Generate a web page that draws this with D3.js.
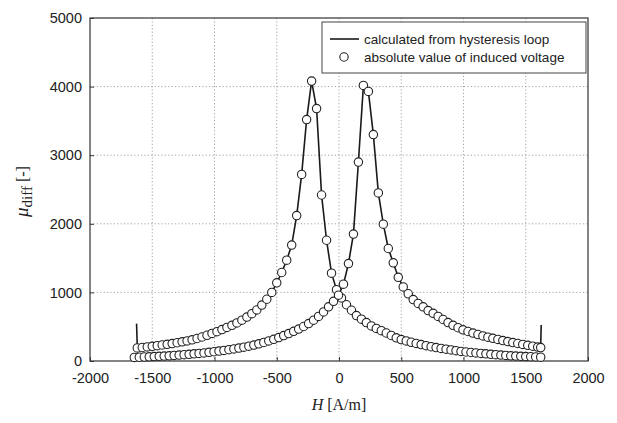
<!DOCTYPE html>
<html>
<head>
<meta charset="utf-8">
<script src="https://cdn.jsdelivr.net/npm/d3@7/dist/d3.min.js"></script>
<style>
  html, body { margin: 0; padding: 0; background: #fff; }
  #chart { width: 617px; height: 423px; }
  text { fill: #222; }
</style>
</head>
<body>
<div id="chart"></div>
<script>
// descending branch of the loop (peak at negative H)
const hDesc = [-1620, -1580, -1540, -1500, -1460, -1420, -1380, -1340, -1300, -1260,
  -1220, -1180, -1140, -1100, -1060, -1020, -980, -940, -900, -860,
  -820, -780, -740, -700, -660, -620, -580, -540, -500, -460,
  -420, -380, -340, -300, -260, -220, -180, -140, -100, -60,
  -20, 20, 60, 100, 140, 180, 220, 260, 300, 340,
  380, 420, 460, 500, 540, 580, 620, 660, 700, 740,
  780, 820, 860, 900, 940, 980, 1020, 1060, 1100, 1140,
  1180, 1220, 1260, 1300, 1340, 1380, 1420, 1460, 1500, 1540,
  1580, 1620];
const muDesc = [190, 197, 205, 214, 224, 233, 243, 254, 266, 279,
  293, 308, 328, 350, 375, 402, 428, 458, 490, 520,
  555, 595, 640, 690, 745, 815, 900, 1000, 1140, 1290,
  1470, 1690, 2120, 2720, 3520, 4080, 3680, 2420, 1760, 1280,
  1040, 920, 820, 740, 662, 610, 560, 512, 475, 442,
  408, 372, 338, 312, 292, 273, 256, 240, 224, 208,
  195, 183, 172, 161, 150, 140, 131, 124, 117, 111,
  104, 98, 92, 86, 81, 76, 72, 68, 65, 62,
  59, 56];

// ascending branch of the loop (peak at positive H)
const hAsc = [-1644, -1604, -1564, -1524, -1484, -1444, -1404, -1364, -1324, -1284,
  -1244, -1204, -1164, -1124, -1084, -1044, -1004, -964, -924, -884,
  -844, -804, -764, -724, -684, -644, -604, -564, -524, -484,
  -444, -404, -364, -324, -284, -244, -204, -164, -124, -84,
  -44, -4, 36, 76, 116, 156, 196, 236, 276, 316,
  356, 396, 436, 476, 516, 556, 596, 636, 676, 716,
  756, 796, 836, 876, 916, 956, 996, 1036, 1076, 1116,
  1156, 1196, 1236, 1276, 1316, 1356, 1396, 1436, 1476, 1516,
  1556, 1596, 1620];
const muAsc = [52, 55, 58, 61, 64, 68, 72, 76, 81, 86,
  92, 98, 104, 111, 118, 126, 135, 144, 154, 165,
  176, 188, 202, 216, 232, 250, 270, 292, 316, 342,
  370, 400, 432, 466, 503, 545, 595, 650, 715, 790,
  870, 960, 1120, 1420, 1850, 2900, 4017, 3930, 3300, 2450,
  1994, 1640, 1431, 1220, 1080, 980, 895, 840, 790, 735,
  695, 650, 605, 560, 520, 485, 455, 430, 407, 386,
  366, 348, 331, 314, 298, 283, 269, 255, 242, 229,
  216, 203, 195];

// spikes of the calculated curve at the loop tips (line only)
const spikeH = [-1626, 1624];
const spikeMu = [545, 525];

const xTicks = [-2000, -1500, -1000, -500, 0, 500, 1000, 1500, 2000];
const yTicks = [0, 1000, 2000, 3000, 4000, 5000];
const legendLabels = ['calculated from hysteresis loop', 'absolute value of induced voltage'];

function renderChart(containerSelector) {
  const container = d3.select(containerSelector);
  container.selectAll('*').remove();

  const margin = { top: 18, right: 29, bottom: 62, left: 90 };
  const width = 617 - margin.left - margin.right;
  const height = 423 - margin.top - margin.bottom;

  const root = container.append('svg')
    .attr('width', 617)
    .attr('height', 423);
  const svg = root.append('g')
    .attr('transform', `translate(${margin.left},${margin.top})`);

  const x = d3.scaleLinear().domain([-2000, 2000]).range([0, width]);
  const y = d3.scaleLinear().domain([0, 5000]).range([height, 0]);

  // dotted grid
  svg.append('g')
    .selectAll('line')
    .data(xTicks.slice(1, -1))
    .join('line')
    .attr('x1', d => x(d)).attr('x2', d => x(d))
    .attr('y1', 0).attr('y2', height)
    .attr('stroke', '#999').attr('stroke-width', 0.9)
    .attr('stroke-dasharray', '1.2,2.2');
  svg.append('g')
    .selectAll('line')
    .data(yTicks.slice(1, -1))
    .join('line')
    .attr('x1', 0).attr('x2', width)
    .attr('y1', d => y(d)).attr('y2', d => y(d))
    .attr('stroke', '#999').attr('stroke-width', 0.9)
    .attr('stroke-dasharray', '1.2,2.2');

  // axes (plain hyphen minus, as in the original)
  const fmt = d => String(d);
  const xAxis = svg.append('g')
    .attr('transform', `translate(0,${height})`)
    .call(d3.axisBottom(x).tickValues(xTicks).tickSize(-4).tickPadding(12).tickFormat(fmt));
  const yAxis = svg.append('g')
    .call(d3.axisLeft(y).tickValues(yTicks).tickSize(-4).tickPadding(8).tickFormat(fmt));
  [xAxis, yAxis].forEach(a => {
    a.select('.domain').remove();
    a.selectAll('line').attr('stroke', '#333');
    a.selectAll('text')
      .style('font-family', 'Liberation Sans, Arial, sans-serif')
      .style('font-size', '14.5px')
      .attr('fill', '#2a2a2a');
  });

  // frame
  svg.append('rect')
    .attr('width', width).attr('height', height)
    .attr('fill', 'none').attr('stroke', '#333').attr('stroke-width', 1.2);

  const lineGen = d3.line().x(d => x(d[0])).y(d => y(d[1]));
  const descPts = [[spikeH[0], spikeMu[0]]].concat(hDesc.map((h, i) => [h, muDesc[i]]));
  const ascPts = hAsc.map((h, i) => [h, muAsc[i]]).concat([[spikeH[1], spikeMu[1]]]);

  [descPts, ascPts].forEach(pts => {
    svg.append('path')
      .attr('d', lineGen(pts))
      .attr('fill', 'none')
      .attr('stroke', '#1a1a1a')
      .attr('stroke-width', 1.6);
  });

  const circleData = hDesc.map((h, i) => [h, muDesc[i]])
    .concat(hAsc.map((h, i) => [h, muAsc[i]]));
  svg.append('g')
    .selectAll('circle')
    .data(circleData)
    .join('circle')
    .attr('cx', d => x(d[0]))
    .attr('cy', d => y(d[1]))
    .attr('r', 4.2)
    .attr('fill', '#fff')
    .attr('stroke', '#222')
    .attr('stroke-width', 1.1);

  // axis titles
  const xt = svg.append('text')
    .attr('x', width / 2).attr('y', height + 49)
    .attr('text-anchor', 'middle')
    .style('font-family', 'Liberation Serif, Times New Roman, serif')
    .style('font-size', '16px');
  xt.append('tspan').style('font-style', 'italic').text('H');
  xt.append('tspan').text(' [A/m]');

  const yt = root.append('text')
    .attr('transform', `translate(28,${margin.top + height / 2 + 2}) rotate(-90)`)
    .attr('text-anchor', 'middle')
    .style('font-family', 'Liberation Serif, Times New Roman, serif')
    .style('font-size', '16px');
  yt.append('tspan').style('font-style', 'italic').style('font-size', '19px').text('μ');
  yt.append('tspan').attr('dy', 4).style('font-size', '15px').text('diff');
  yt.append('tspan').attr('dy', -4).text(' [-]');

  // legend
  const lg = root.append('g').attr('transform', 'translate(322,22)');
  lg.append('rect')
    .attr('width', 264).attr('height', 51)
    .attr('fill', '#fff').attr('stroke', '#444').attr('stroke-width', 1);
  lg.append('line')
    .attr('x1', 8).attr('x2', 37).attr('y1', 17).attr('y2', 17)
    .attr('stroke', '#1a1a1a').attr('stroke-width', 1.6);
  lg.append('circle')
    .attr('cx', 22).attr('cy', 35).attr('r', 4.2)
    .attr('fill', '#fff').attr('stroke', '#222').attr('stroke-width', 1.1);
  legendLabels.forEach((t, i) => {
    lg.append('text')
      .attr('x', 42).attr('y', 21.5 + i * 18)
      .style('font-family', 'Liberation Sans, Arial, sans-serif')
      .style('font-size', '13.5px')
      .text(t);
  });
}

renderChart('#chart');
</script>
</body>
</html>
